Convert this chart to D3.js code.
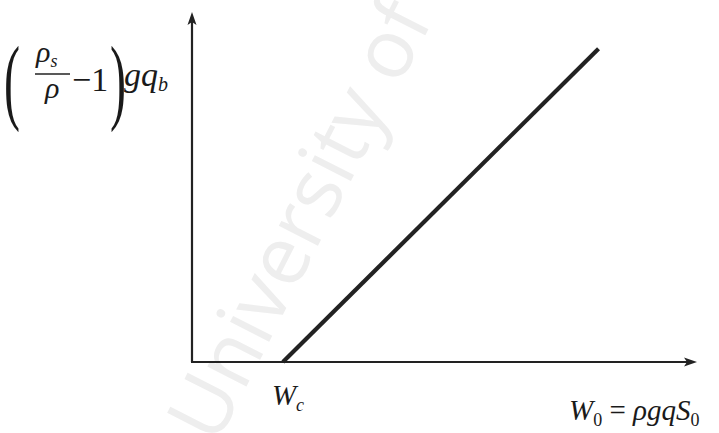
<!DOCTYPE html>
<html>
<head>
<meta charset="utf-8">
<script src="https://cdn.jsdelivr.net/npm/d3@7"></script>
</head>
<body style="margin:0;background:#fff">
<svg id="chart" width="719" height="433" style="display:block"></svg>
<script>
// Normalised transport relation: no transport below the threshold W_c,
// then a linear rise with stream power W_0.
const xDomain = [0, 1];
const yDomain = [0, 1];
const thresholdW = 0.18;          // W_c
const curveX = [0.18, 0.805];     // stream power W_0
const curveY = [0.0, 0.895];      // (rho_s/rho - 1) g q_b

const svg = d3.select("#chart");
const origin = { x: 192, y: 362 };
const ink = "#222";

const x = d3.scaleLinear().domain(xDomain).range([origin.x, 697]);
const y = d3.scaleLinear().domain(yDomain).range([origin.y, 12]);

// layers: watermark behind everything
const markLayer = svg.append("g");
const plotLayer = svg.append("g");
const textLayer = svg.append("g");

function serifText(parent, size, italic = true) {
  return parent.append("text")
    .style("font-family", '"Liberation Serif"')
    .style("font-size", size + "px")
    .style("font-style", italic ? "italic" : "normal")
    .style("fill", "#1a1a1a");
}

// threshold label W_c
const wc = serifText(textLayer, 29).attr("x", x(thresholdW) - 11).attr("y", 405);
wc.append("tspan").text("W");
wc.append("tspan").attr("dy", 6).style("font-size", "18px").text("c");

// x-axis title: W_0 = ρgqS_0
const xt = serifText(textLayer, 29).attr("x", 569).attr("y", 420);
xt.append("tspan").text("W");
xt.append("tspan").attr("dy", 6).style("font-size", "18px").style("font-style", "normal").text("0");
xt.append("tspan").attr("dy", -6).style("font-style", "normal").text(" = ");
xt.append("tspan").text("ρgqS");
xt.append("tspan").attr("dy", 6).style("font-size", "18px").style("font-style", "normal").text("0");

// y-axis title: (ρ_s/ρ − 1) g q_b
const yl = textLayer.append("g");
serifText(yl, 96, false)
  .attr("transform", "translate(4,112) scale(0.5,1)")
  .text("(");
serifText(yl, 96, false)
  .attr("transform", "translate(110,112) scale(0.5,1)")
  .text(")");
const num = serifText(yl, 30).attr("x", 36).attr("y", 62);
num.append("tspan").text("ρ");
num.append("tspan").attr("dy", 5).style("font-size", "18px").text("s");
yl.append("line")
  .attr("x1", 35).attr("x2", 70).attr("y1", 74).attr("y2", 74)
  .attr("stroke", ink).attr("stroke-width", 1.4);
serifText(yl, 30).attr("x", 45).attr("y", 98).text("ρ");
serifText(yl, 34, false).attr("x", 72).attr("y", 91).text("−1");
const gq = serifText(yl, 34).attr("x", 124).attr("y", 86);
gq.append("tspan").text("gq");
gq.append("tspan").attr("dy", 5).style("font-size", "20px").text("b");

// axes with arrow heads
plotLayer.append("line")
  .attr("x1", x(0)).attr("y1", y(0))
  .attr("x2", x(0)).attr("y2", y(1) + 6)
  .attr("stroke", ink).attr("stroke-width", 2.2);
plotLayer.append("line")
  .attr("x1", x(0) - 1).attr("y1", y(0))
  .attr("x2", x(1) - 6).attr("y2", y(0))
  .attr("stroke", ink).attr("stroke-width", 2.2);
plotLayer.append("path")
  .attr("d", `M${x(0)},${y(1)} L${x(0) - 4.5},${y(1) + 13} L${x(0)},${y(1) + 10} L${x(0) + 4.5},${y(1) + 13} Z`)
  .attr("fill", ink);
plotLayer.append("path")
  .attr("d", `M${x(1)},${y(0)} L${x(1) - 13},${y(0) - 4.5} L${x(1) - 10},${y(0)} L${x(1) - 13},${y(0) + 4.5} Z`)
  .attr("fill", ink);

// transport line
const pts = curveX.map((d, i) => [d, curveY[i]]);
plotLayer.append("path")
  .datum(pts)
  .attr("d", d3.line().x(d => x(d[0])).y(d => y(d[1])))
  .attr("fill", "none")
  .attr("stroke", ink)
  .attr("stroke-width", 4.2);

// faint watermark
markLayer.append("text")
  .attr("transform", "translate(216,446) rotate(-63)")
  .style("font-family", '"Open Sans"')
  .style("font-size", "82px")
  .style("fill", "#eeeeee")
  .text("University of");
</script>
</body>
</html>
